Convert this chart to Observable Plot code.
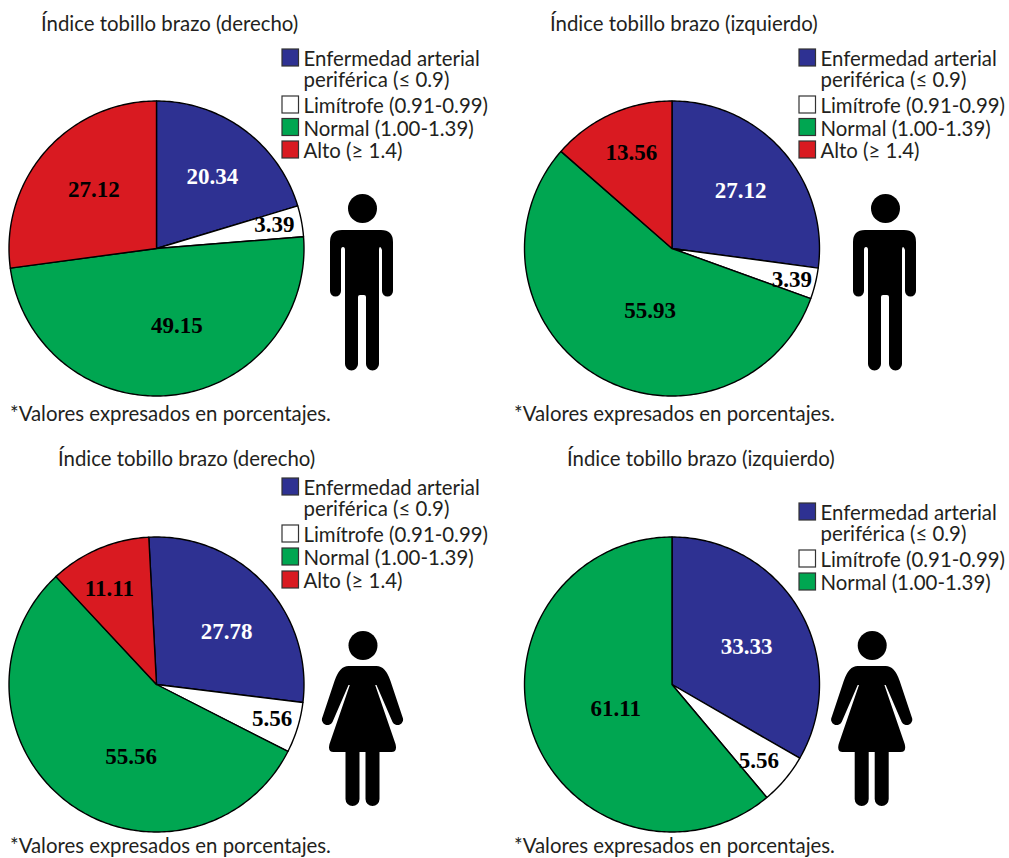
<!DOCTYPE html>
<html lang="es">
<head>
<meta charset="utf-8">
<script src="https://cdn.jsdelivr.net/npm/d3@7"></script>
<script src="https://cdn.jsdelivr.net/npm/@observablehq/plot@0.6"></script>
<style>
  html, body { margin: 0; padding: 0; background: #fff; }
  #chart { width: 1009px; height: 858px; }
  #chart svg { display: block; }
</style>
</head>
<body>
<div id="chart"></div>
<script>
// Ankle-brachial index categories and their colours
const categories = ["Enfermedad arterial periférica", "Limítrofe", "Normal", "Alto"];
const categoryColors = ["#2e3192", "#ffffff", "#00a651", "#d91a21"];

// Percentages per panel, in category order
const hombreDerecho = [20.34, 3.39, 49.15, 27.12];
const hombreIzquierdo = [27.12, 3.39, 55.93, 13.56];
const mujerDerecho = [27.78, 5.56, 55.56, 11.11];
const mujerIzquierdo = [33.33, 5.56, 61.11];

// Chart text
const titleDerecho = "Índice tobillo brazo (derecho)";
const titleIzquierdo = "Índice tobillo brazo (izquierdo)";
const footnote = "*Valores expresados en porcentajes.";
const legendLabels = [
  "Enfermedad arterial\nperiférica (≤ 0.9)",
  "Limítrofe (0.91-0.99)",
  "Normal (1.00-1.39)",
  "Alto (≥ 1.4)"
];

// Layout of the four panels
const RADIUS = 147.5;
const FONT_SIZE = 20.4;
const LEGEND_LEADING = 21;
const SANS = "Lato, 'Open Sans', sans-serif";
const SERIF = "'Liberation Serif', serif";
const panels = [
  {id: "a", values: hombreDerecho, title: titleDerecho, cx: 156, cy: 248, start: 0,
   titleX: 40.5, titleY: 24, footX: 9.5, footY: 414, legendX: 282, legendY: 49, legendStep: 22.5, icon: "man", iconX: 362, iconY: 208,
   nudges: [[3, -1], [31, -7], [11, -11], [4, -1]]},
  {id: "b", values: hombreIzquierdo, title: titleIzquierdo, cx: 671.5, cy: 248, start: 0,
   titleX: 549.5, titleY: 24, footX: 513.5, footY: 414, legendX: 799, legendY: 49, legendStep: 22.5, icon: "man", iconX: 885, iconY: 208,
   nudges: [[2, 0], [34, 10], [23, -14], [-4, -15]]},
  {id: "c", values: mujerDerecho, title: titleDerecho, cx: 156, cy: 684, start: -3,
   titleX: 57.5, titleY: 459, footX: 9.5, footY: 846, legendX: 282, legendY: 478, legendStep: 23, icon: "woman", iconX: 362.5, iconY: 645,
   nudges: [[5.5, 7], [31, 8], [28, 1.5], [-12.5, -14]]},
  {id: "d", values: mujerIzquierdo, title: titleIzquierdo, cx: 671.5, cy: 684, start: 0,
   titleX: 566.5, titleY: 459, footX: 513.5, footY: 846, legendX: 799, legendY: 503, legendStep: 23, icon: "woman", iconX: 871.7, iconY: 645,
   nudges: [[-2, 6], [19, 19], [27, -6]]}
];

const polar = (p, deg, r) => {
  const a = deg * Math.PI / 180;
  return [p.cx + r * Math.sin(a), p.cy - r * Math.cos(a)];
};

// Outline points and label anchors derived from each panel's percentages
const slicePoints = [];
const sliceLabels = [];
const swatches = [];
const legendTexts = [];
for (const p of panels) {
  const total = d3.sum(p.values);
  let angle = p.start;
  p.values.forEach((v, i) => {
    const sweep = v / total * 360;
    const key = p.id + i;
    const outline = [[p.cx, p.cy]];
    const steps = Math.ceil(sweep);
    for (let s = 0; s <= steps; ++s) outline.push(polar(p, angle + sweep * s / steps, RADIUS));
    outline.push([p.cx, p.cy]);
    for (const [x, y] of outline) slicePoints.push({key, category: categories[i], x, y});
    const [lx, ly] = polar(p, angle + sweep / 2, RADIUS * 0.6);
    sliceLabels.push({
      value: v.toFixed(2),
      x: lx + p.nudges[i][0],
      y: ly + p.nudges[i][1],
      color: i === 0 ? "#ffffff" : "#000000"
    });
    angle += sweep;
  });

  let y = p.legendY;
  p.values.forEach((_, i) => {
    swatches.push({category: categories[i], x1: p.legendX, x2: p.legendX + 16.5, y1: y, y2: y + 17});
    const extraLines = legendLabels[i].split("\n").length - 1;
    legendTexts.push({
      text: legendLabels[i],
      x: p.legendX + 21,
      y: y + 9.8 + extraLines * LEGEND_LEADING / 2
    });
    y += i === 0 ? 47 : p.legendStep;
  });
}

const titleRows = panels.map((p) => ({text: p.title, x: p.titleX, y: p.titleY}));
const footRows = panels.map((p) => ({text: footnote, x: p.footX, y: p.footY}));
const heads = panels.map((p) => ({x: p.iconX, y: p.iconY}));

// Pictogram silhouettes, relative to the head centre on x and to the panel row on y
const manBody = "M-20,22 H19 Q31,22 31,34 V83 A5.5,5.5 0 0 1 20,83 V42 Q19,39 18,39 Q17,39 17,42 V156 A6.5,6.5 0 0 1 4,156 V89 Q4,87 2,87 H-2 Q-4,87 -4,89 V156 A6.5,6.5 0 0 1 -17,156 V42 Q-17,39 -19,39 Q-21,39 -21,42 V83 A5.5,5.5 0 0 1 -32,83 V34 Q-32,22 -20,22 Z";
const womanBody = "M-14,21 H14 Q23,21 28,36 L40,72 A5.5,5.5 0 0 1 30,77 L14,40 H12.7 L33,99 Q35,107 29,107 H17 V154 A7,7 0 0 1 3,154 V107 H-3 V154 A7,7 0 0 1 -17,154 V107 H-29 Q-35,107 -33,99 L-12.7,40 H-14 L-30,77 A5.5,5.5 0 0 1 -40,72 L-28,36 Q-23,21 -14,21 Z";

const silhouettes = (index, {x, y}) => {
  const g = d3.create("svg:g").attr("fill", "#000");
  for (const p of panels) {
    g.append("path")
      .attr("d", p.icon === "man" ? manBody : womanBody)
      .attr("transform", `translate(${x(p.iconX)},${y(p.iconY)})`);
  }
  return g.node();
};

const chart = Plot.plot({
  width: 1009,
  height: 858,
  margin: 0,
  style: {background: "#fff", overflow: "visible"},
  x: {domain: [0, 1009], range: [0, 1009], axis: null},
  y: {domain: [0, 858], range: [0, 858], axis: null},
  color: {domain: categories, range: categoryColors},
  marks: [
    Plot.line(slicePoints, {
      x: "x", y: "y", z: "key", fill: "category",
      stroke: "#000", strokeWidth: 1.4, strokeLinejoin: "round"
    }),
    Plot.text(sliceLabels, {
      x: "x", y: "y", text: "value", fill: "color",
      fontFamily: SERIF, fontWeight: "bold", fontSize: 23
    }),
    Plot.rect(swatches, {
      x1: "x1", x2: "x2", y1: "y1", y2: "y2", fill: "category",
      stroke: "#333", strokeWidth: 1.2
    }),
    Plot.text(legendTexts, {
      x: "x", y: "y", text: "text", textAnchor: "start",
      lineHeight: LEGEND_LEADING / FONT_SIZE,
      fontFamily: SANS, fontSize: FONT_SIZE, fill: "#231f20"
    }),
    Plot.text(titleRows, {
      x: "x", y: "y", text: "text", textAnchor: "start",
      fontFamily: SANS, fontSize: FONT_SIZE, fill: "#231f20"
    }),
    Plot.text(footRows, {
      x: "x", y: "y", text: "text", textAnchor: "start",
      fontFamily: SANS, fontSize: FONT_SIZE, fill: "#231f20"
    }),
    Plot.dot(heads, {x: "x", y: "y", r: 14.5, fill: "#000"}),
    silhouettes
  ]
});

document.getElementById("chart").append(chart);
</script>
</body>
</html>
